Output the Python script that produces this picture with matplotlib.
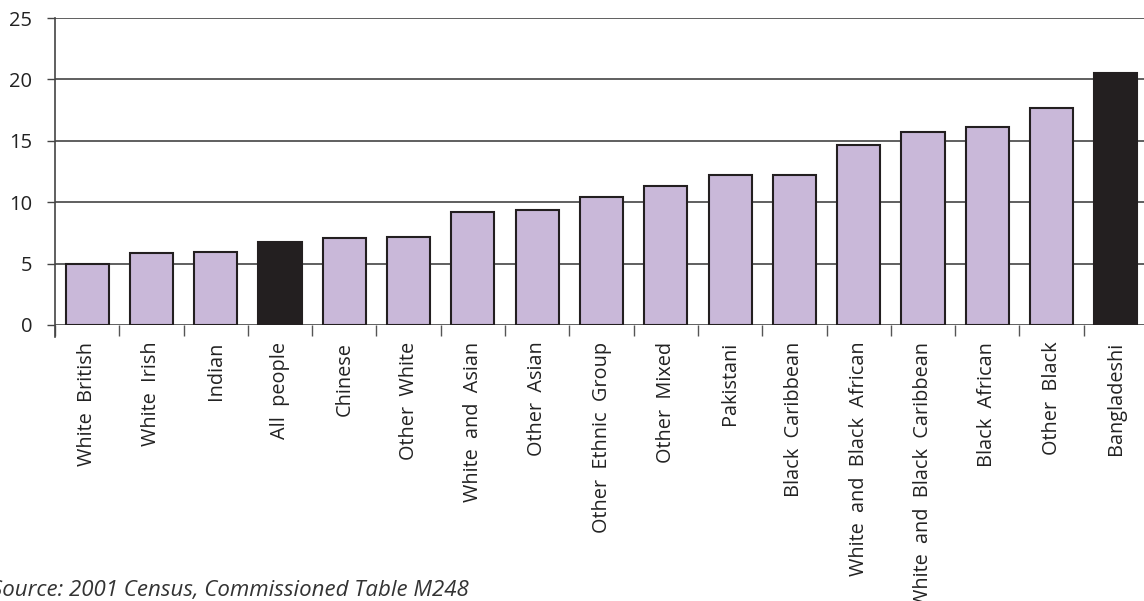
import numpy as np
import matplotlib.pyplot as plt

plt.rcParams['font.family'] = ['Open Sans', 'DejaVu Sans']

groups = ["White British", "White Irish", "Indian", "All people", "Chinese",
          "Other White", "White and Asian", "Other Asian", "Other Ethnic Group",
          "Other Mixed", "Pakistani", "Black Caribbean", "White and Black African",
          "White and Black Caribbean", "Black African", "Other Black", "Bangladeshi"]
values = [5.0, 5.84, 5.92, 6.73, 7.1, 7.19, 9.18, 9.34, 10.45,
          11.29, 12.2, 12.25, 14.68, 15.69, 16.1, 17.64, 20.52]
highlight = ["All people", "Bangladeshi"]

lavender = '#c9b8d9'
dark = '#231f20'

fig = plt.figure(figsize=(11.44, 6.01), dpi=100)
ax = fig.add_axes([55 / 1144, 1 - 325 / 601, 1093 / 1144, 307 / 601])

x = np.arange(len(groups))
colors = [dark if g in highlight else lavender for g in groups]
ax.bar(x, values, width=0.67, color=colors, edgecolor=dark, linewidth=1.5, zorder=3)

ax.set_xlim(-0.5, len(groups) - 0.5)
ax.set_ylim(0, 25)
ax.set_yticks([0, 5, 10, 15, 20, 25])
ax.yaxis.grid(True, color='#444444', linewidth=1.2, zorder=0)
ax.set_axisbelow(True)

# category labels sit at bar centres, tick marks at the boundaries
ax.set_xticks(x)
ax.set_xticklabels([g.replace(' ', '  ') for g in groups], rotation=90,
                   fontsize=14.3, color='#222222')
ax.tick_params(axis='x', length=0, pad=12)
ax.set_xticks(np.arange(len(groups) + 1) - 0.5, minor=True)
ax.tick_params(axis='x', which='minor', length=8, width=1, color='#555555')
ax.tick_params(axis='y', labelsize=14.5, length=6, width=1, color='#444444',
               pad=10.5, labelcolor='#222222')

for side in ['top', 'right', 'bottom']:
    ax.spines[side].set_visible(False)
ax.spines['left'].set_color('#444444')
ax.spines['left'].set_linewidth(1.2)
ax.spines['left'].set_bounds(-1, 25)

fig.text(-9 / 1144, 1 - 596 / 601, "Source: 2001 Census, Commissioned Table M248",
         fontsize=16, style='italic', color='#333333', ha='left', va='baseline')

fig.savefig('out.png', dpi=100)
